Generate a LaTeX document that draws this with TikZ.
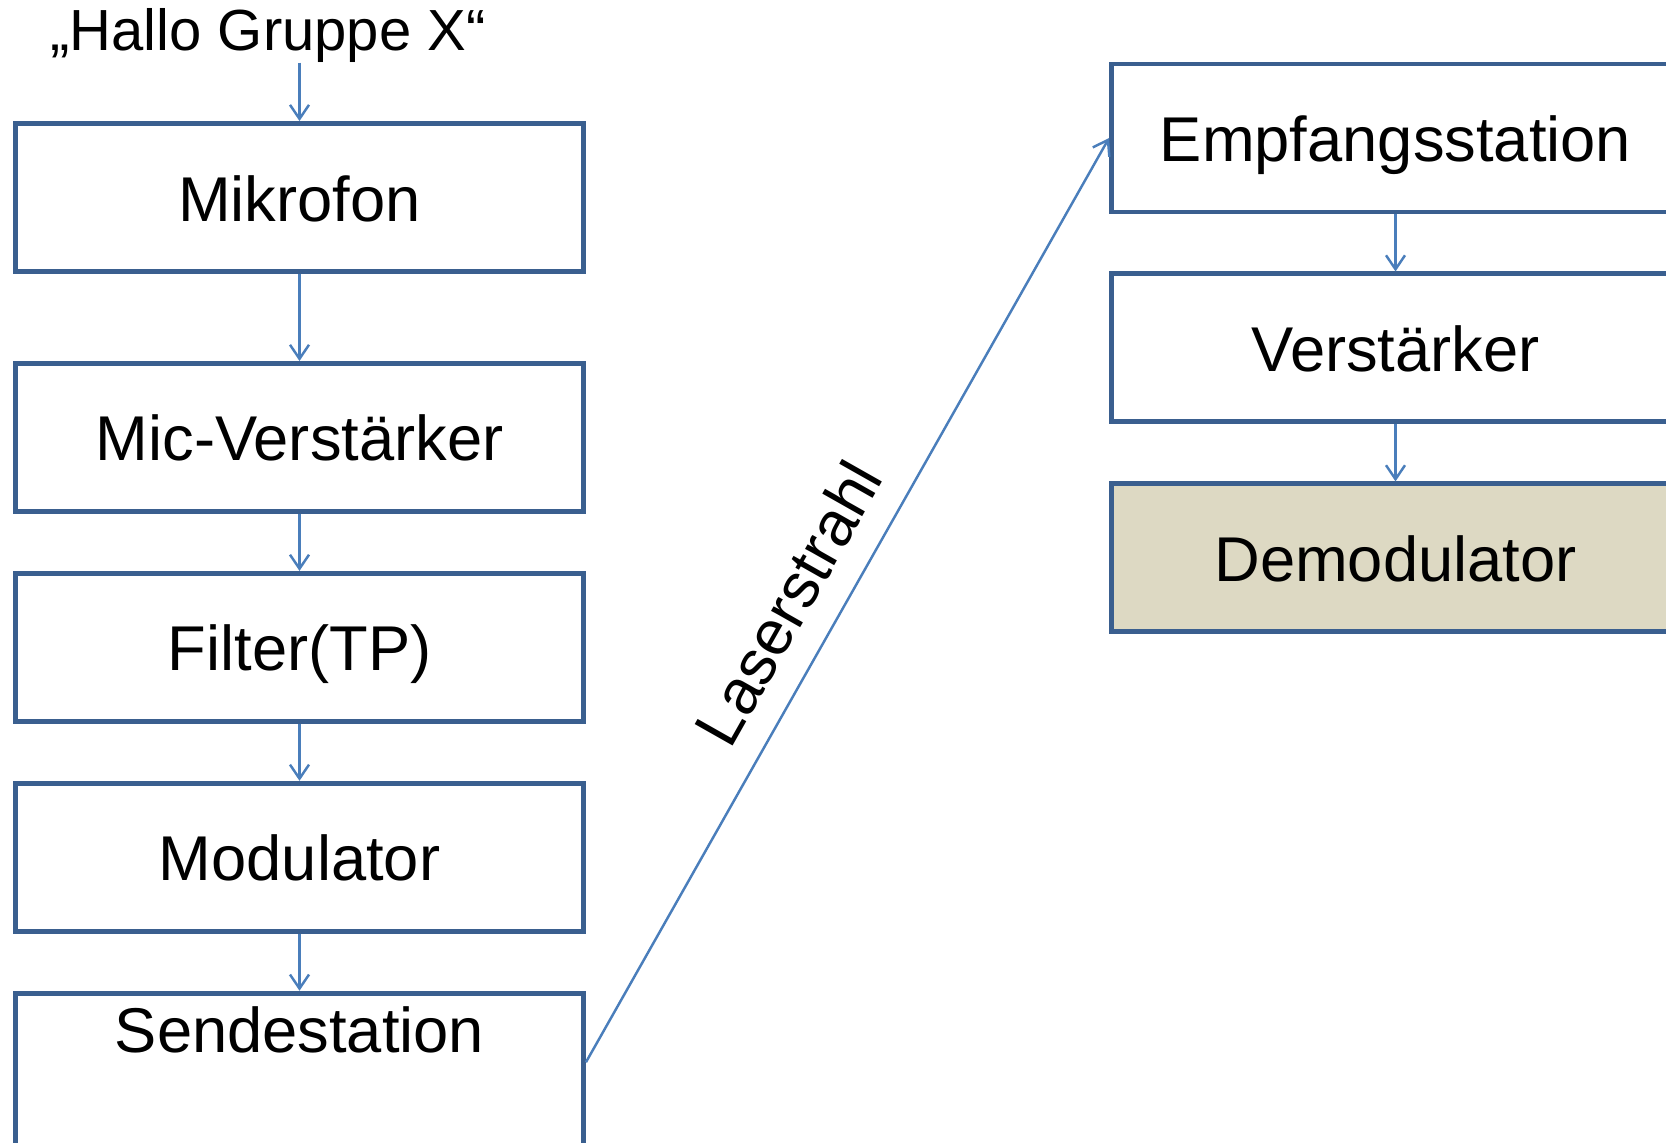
\documentclass[tikz,border=0pt]{standalone}
\usepackage{fontspec}
\setmainfont{Liberation Sans}
\usetikzlibrary{arrows.meta, positioning}
\definecolor{boxline}{HTML}{3A5F8F}
\definecolor{arrowline}{HTML}{4A7EBB}
\definecolor{demofill}{HTML}{DDD9C3}
\tikzset{
  block/.style={
    rectangle,
    minimum width=5.68cm,
    minimum height=1.48cm,
    text height=0.47cm,
    text depth=0pt,
    align=center,
    draw=boxline,
    line width=1.4pt,
    font=\fontsize{18}{22}\selectfont
  },
  sendblock/.style={
    block,
    text height=0.45cm,
    text depth=0.85cm,
    inner ysep=0.14cm
  },
  demoblock/.style={
    block,
    fill=demofill
  },
  arrow/.style={draw=arrowline, line width=0.7pt, -{Straight Barb[length=1.4mm,width=1.9mm]}},
  beam/.style={draw=arrowline, line width=0.7pt, -{Straight Barb[length=1.4mm,width=1.9mm]}}
}

\begin{document}
\begin{tikzpicture}[node distance=0.57cm]
  \clip (0,0) rectangle (16.66,-11.42);

  % sender side
  \node (hallo) [inner sep=0pt, font=\fontsize{16.5}{20}\selectfont] at (2.68,-0.35) {„Hallo Gruppe X“};
  \node (mik) [block] at (2.995,-1.975) {Mikrofon};
  \node (micamp) [block, below=0.87cm of mik] {Mic-Verstärker};
  \node (filter) [block, below=of micamp] {Filter(TP)};
  \node (mod) [block, below=of filter] {Modulator};
  \node (send) [sendblock, below=of mod] {Sendestation};

  % receiver side
  \node (empf) [block] at (13.955,-1.38) {Empfangsstation};
  \node (amp) [block, below=of empf] {Verstärker};
  \node (demod) [demoblock, below=of amp] {Demodulator};

  \draw [arrow] (hallo.south -| mik.north) -- (mik.north);
  \draw [arrow] (mik) -- (micamp);
  \draw [arrow] (micamp) -- (filter);
  \draw [arrow] (filter) -- (mod);
  \draw [arrow] (mod) -- (send);
  \draw [arrow] (empf) -- (amp);
  \draw [arrow] (amp) -- (demod);

  \draw [beam] ([yshift=0.1cm]send.east) -- node [sloped, above=4pt, pos=0.47, font=\fontsize{18}{22}\selectfont] {Laserstrahl} (empf.west);
\end{tikzpicture}
\end{document}
